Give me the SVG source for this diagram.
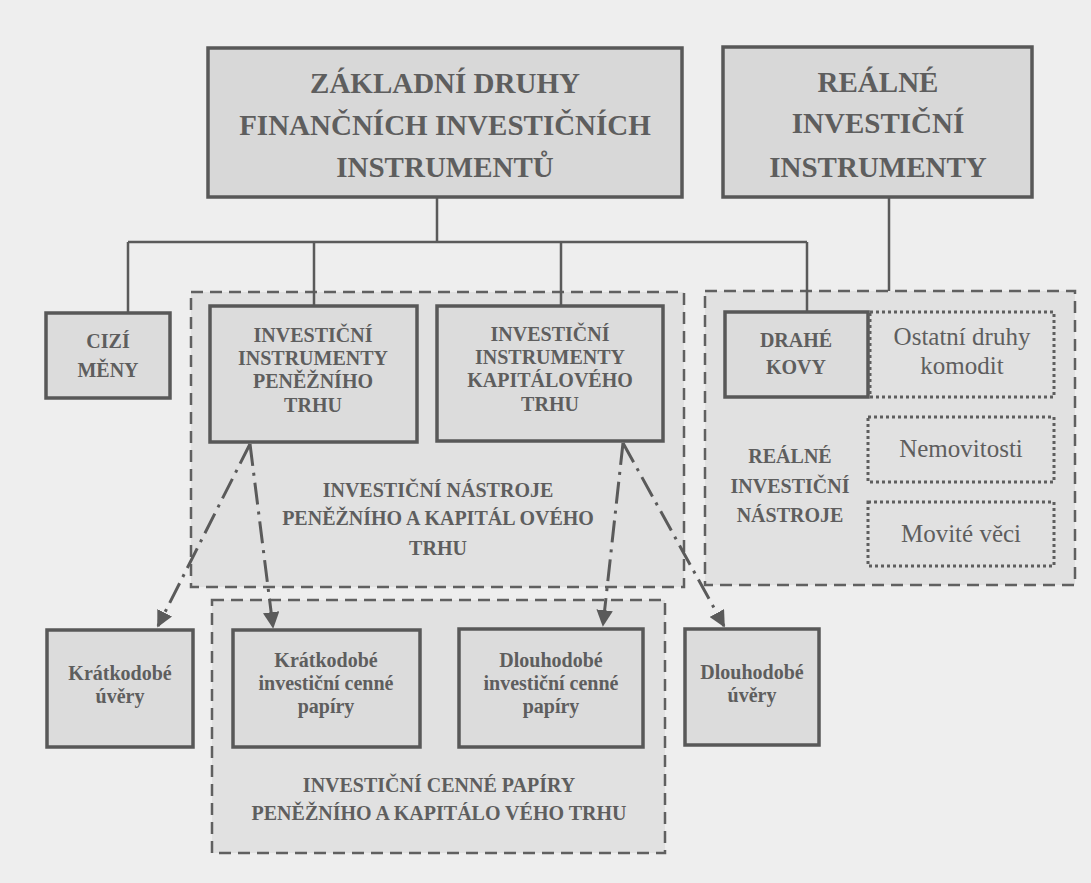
<svg xmlns="http://www.w3.org/2000/svg" width="1091" height="883" viewBox="0 0 1091 883">
<defs>
<style>
.bg{fill:#eeeeee}
.box{fill:#dcdcdc;stroke:#585858;stroke-width:3.5}
.top{fill:#d8d8d8;stroke:#585858;stroke-width:3.5}
.grp{fill:#e1e1e1;stroke:#606060;stroke-width:2.5;stroke-dasharray:12 7}
.dot{fill:none;stroke:#5e5e5e;stroke-width:3;stroke-dasharray:3 3}
.ln{fill:none;stroke:#5a5a5a;stroke-width:2.5}
.dd{fill:none;stroke:#5a5a5a;stroke-width:3;stroke-dasharray:22 7 3 7}
text{font-family:"Liberation Serif","Times New Roman",serif;fill:#5e5e5e;text-anchor:middle}
.b{font-weight:bold;font-size:20px}
.h{font-weight:bold;font-size:29px}
.r{font-size:25px}
</style>
<marker id="ah" viewBox="0 0 10 10" refX="9" refY="5" markerWidth="5.5" markerHeight="5.5" orient="auto" markerUnits="strokeWidth">
<path d="M0,0 L10,5 L0,10 z" fill="#5a5a5a"/>
</marker>
</defs>
<rect class="bg" x="0" y="0" width="1091" height="883"/>

<g id="group-penezni-kapitalovy">
<rect class="grp" x="191" y="292" width="493" height="295"/>
<text class="b" x="438" y="497">INVESTIČNÍ NÁSTROJE</text>
<text class="b" x="438" y="525">PENĚŽNÍHO A KAPITÁL OVÉHO</text>
<text class="b" x="438" y="555">TRHU</text>
</g>
<g id="group-realne-nastroje">
<rect class="grp" x="705" y="291" width="370" height="294"/>
<text class="b" x="790" y="463">REÁLNÉ</text>
<text class="b" x="790" y="493">INVESTIČNÍ</text>
<text class="b" x="790" y="522">NÁSTROJE</text>
</g>
<g id="group-cenne-papiry">
<rect class="grp" x="212" y="600" width="453" height="253"/>
<text class="b" x="439" y="792">INVESTIČNÍ CENNÉ PAPÍRY</text>
<text class="b" x="439" y="820">PENĚŽNÍHO A KAPITÁLO VÉHO TRHU</text>
</g>

<g id="connectors">
<path class="ln" d="M437,197 V242 M128,242 H807 M128,242 V313 M314,242 V306 M561,242 V306 M807,242 V311 M889,197 V291"/>
<path class="dd" d="M250,444 L158,626" marker-end="url(#ah)"/>
<path class="dd" d="M250,444 L273,627" marker-end="url(#ah)"/>
<path class="dd" d="M623,443 L603,625" marker-end="url(#ah)"/>
<path class="dd" d="M623,443 L724,626" marker-end="url(#ah)"/>
</g>

<g id="node-zakladni">
<rect class="top" x="208" y="48" width="474" height="149"/>
<text class="h" x="445" y="93">ZÁKLADNÍ DRUHY</text>
<text class="h" x="445" y="135">FINANČNÍCH INVESTIČNÍCH</text>
<text class="h" x="445" y="177">INSTRUMENTŮ</text>
</g>
<g id="node-realne">
<rect class="top" x="723" y="47" width="309" height="150"/>
<text class="h" x="878" y="92">REÁLNÉ</text>
<text class="h" x="878" y="133">INVESTIČNÍ</text>
<text class="h" x="878" y="177">INSTRUMENTY</text>
</g>
<g id="node-cizi-meny">
<rect class="box" x="46" y="313" width="124" height="85"/>
<text class="b" x="108" y="348">CIZÍ</text>
<text class="b" x="108" y="377">MĚNY</text>
</g>
<g id="node-penezni">
<rect class="box" x="210" y="306" width="207" height="136"/>
<text class="b" x="313" y="342">INVESTIČNÍ</text>
<text class="b" x="313" y="365">INSTRUMENTY</text>
<text class="b" x="313" y="388">PENĚŽNÍHO</text>
<text class="b" x="313" y="412">TRHU</text>
</g>
<g id="node-kapitalovy">
<rect class="box" x="437" y="306" width="226" height="135"/>
<text class="b" x="550" y="341">INVESTIČNÍ</text>
<text class="b" x="550" y="364">INSTRUMENTY</text>
<text class="b" x="550" y="387">KAPITÁLOVÉHO</text>
<text class="b" x="550" y="411">TRHU</text>
</g>
<g id="node-drahe-kovy">
<rect class="box" x="725" y="312" width="143" height="85"/>
<text class="b" x="796" y="347">DRAHÉ</text>
<text class="b" x="796" y="374">KOVY</text>
</g>
<g id="node-ostatni">
<rect class="dot" x="870" y="312" width="184" height="85"/>
<text class="r" x="962" y="345">Ostatní druhy</text>
<text class="r" x="962" y="374">komodit</text>
</g>
<g id="node-nemovitosti">
<rect class="dot" x="868" y="417" width="186" height="65"/>
<text class="r" x="961" y="457">Nemovitosti</text>
</g>
<g id="node-movite">
<rect class="dot" x="868" y="502" width="186" height="64"/>
<text class="r" x="961" y="542">Movité věci</text>
</g>
<g id="node-kratkodobe-uvery">
<rect class="box" x="47" y="630" width="146" height="117"/>
<text class="b" x="120" y="680">Krátkodobé</text>
<text class="b" x="120" y="703">úvěry</text>
</g>
<g id="node-kratkodobe-cp">
<rect class="box" x="233" y="630" width="187" height="117"/>
<text class="b" x="326" y="667">Krátkodobé</text>
<text class="b" x="326" y="690">investiční cenné</text>
<text class="b" x="326" y="713">papíry</text>
</g>
<g id="node-dlouhodobe-cp">
<rect class="box" x="459" y="629" width="184" height="118"/>
<text class="b" x="551" y="667">Dlouhodobé</text>
<text class="b" x="551" y="690">investiční cenné</text>
<text class="b" x="551" y="713">papíry</text>
</g>
<g id="node-dlouhodobe-uvery">
<rect class="box" x="685" y="629" width="134" height="116"/>
<text class="b" x="752" y="679">Dlouhodobé</text>
<text class="b" x="752" y="702">úvěry</text>
</g>
</svg>
